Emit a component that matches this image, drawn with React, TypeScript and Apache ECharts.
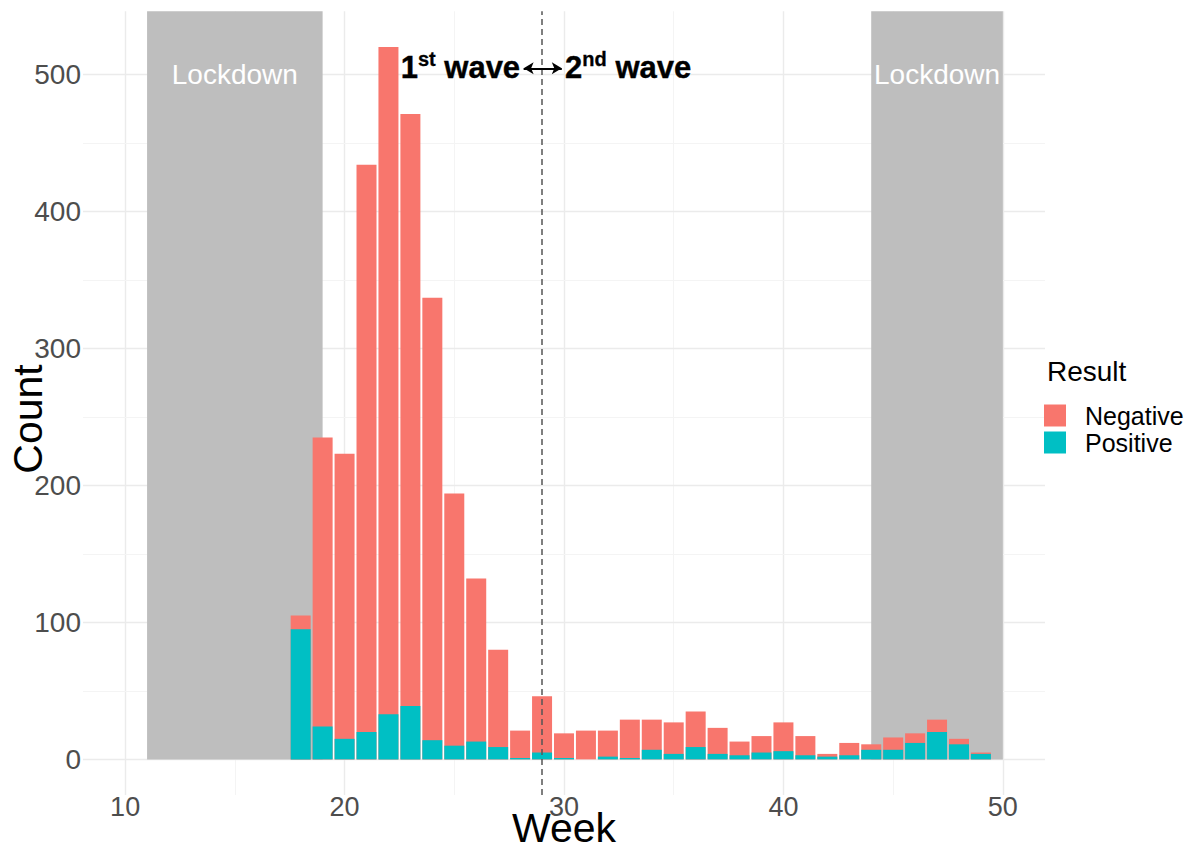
import React, { useEffect, useRef } from "react";
import * as echarts from "echarts";

// ---- data ----
const WEEKS = [18, 19, 20, 21, 22, 23, 24, 25, 26, 27, 28, 29, 30, 31, 32, 33, 34, 35, 36, 37, 38, 39, 40, 41, 42, 43, 44, 45, 46, 47, 48, 49];
const POSITIVE = [95, 24, 15, 20, 33, 39, 14, 10, 13, 9, 1, 5, 1, 0, 2, 1, 7, 4, 9, 4, 3, 5, 6, 3, 2, 3, 7, 7, 12, 20, 11, 4];
const NEGATIVE = [10, 211, 208, 414, 487, 432, 323, 184, 119, 71, 20, 41, 18, 21, 19, 28, 22, 23, 26, 19, 10, 12, 21, 14, 2, 9, 4, 9, 7, 9, 4, 1];
const LOCKDOWN_START = [11, 44];
const LOCKDOWN_END = [19, 50];
const LOCKDOWN_LABEL_Y = 500;
const X_TICKS = [10, 20, 30, 40, 50];
const X_MINOR = [15, 25, 35, 45];
const Y_TICKS = [0, 100, 200, 300, 400, 500];
const Y_MINOR = [50, 150, 250, 350, 450];
const WAVE_DIVIDER = 29;
const WAVE_LABEL_Y = 506;
const ARROW_FROM = 28.16;
const ARROW_TO = 29.9;
const ARROW_Y = 504.4;
const WAVE1_END = 28.0;
const WAVE2_START = 30.05;

const X_MIN = 8.08;
const X_MAX = 51.92;
const Y_MIN = -26;
const Y_MAX = 546;

const FONT = "'Liberation Sans', Arial, Helvetica, sans-serif";
const NEG_COLOR = "#F8766D";
const POS_COLOR = "#00BFC4";

export default function App() {
  const ref = useRef<HTMLDivElement>(null);

  useEffect(() => {
    if (!ref.current) return;
    const chart = echarts.init(ref.current, undefined, { renderer: "svg" });

    const gridLines = [
      ...X_TICKS.map((v) => ({ xAxis: v, lineStyle: { color: "#EBEBEB", width: 1.4, type: "solid" } })),
      ...X_MINOR.map((v) => ({ xAxis: v, lineStyle: { color: "#F4F4F4", width: 1, type: "solid" } })),
      ...Y_TICKS.map((v) => ({ yAxis: v, lineStyle: { color: "#EBEBEB", width: 1.4, type: "solid" } })),
      ...Y_MINOR.map((v) => ({ yAxis: v, lineStyle: { color: "#F4F4F4", width: 1, type: "solid" } })),
    ];

    const lockAreas = LOCKDOWN_START.map((s, i) => [
      { xAxis: s, yAxis: 0 },
      { xAxis: LOCKDOWN_END[i], yAxis: Y_MAX },
    ]);

    const lockLabels = LOCKDOWN_START.map((s, i) => [(s + LOCKDOWN_END[i]) / 2, LOCKDOWN_LABEL_Y]);

    // top of each stacked Negative segment = Positive + Negative
    const stackedTop = WEEKS.map((w, i) => [w, POSITIVE[i] + NEGATIVE[i]]);

    const waveRich = {
      b: {
        fontSize: 31,
        fontWeight: "bold",
        color: "#000000",
        fontFamily: FONT,
        lineHeight: 34,
        verticalAlign: "bottom",
        textBorderColor: "#000000",
        textBorderWidth: 0.4,
      },
      s: {
        fontSize: 20,
        fontWeight: "bold",
        color: "#000000",
        fontFamily: FONT,
        lineHeight: 20,
        verticalAlign: "top",
        textBorderColor: "#000000",
        textBorderWidth: 0.3,
      },
    };

    chart.setOption({
      animation: false,
      backgroundColor: "#ffffff",
      grid: { left: 83, right: 150, top: 11.3, bottom: 57, containLabel: false },
      xAxis: {
        type: "value",
        min: X_MIN,
        max: X_MAX,
        axisLine: { show: false },
        axisTick: { show: false, customValues: X_TICKS },
        splitLine: { show: false },
        axisLabel: {
          customValues: X_TICKS,
          fontSize: 27,
          color: "#4D4D4D",
          fontFamily: FONT,
          margin: -2,
        },
      },
      yAxis: {
        type: "value",
        min: Y_MIN,
        max: Y_MAX,
        axisLine: { show: false },
        axisTick: { show: false, customValues: Y_TICKS },
        splitLine: { show: false },
        axisLabel: {
          customValues: Y_TICKS,
          fontSize: 28,
          color: "#4D4D4D",
          fontFamily: FONT,
          margin: 2,
        },
      },
      legend: {
        data: ["Negative", "Positive"],
        orient: "vertical",
        left: 1044,
        top: 403,
        itemWidth: 22,
        itemHeight: 22,
        itemGap: 2,
        icon: "rect",
        padding: 0,
        selectedMode: false,
        textStyle: { fontSize: 25, color: "#000", fontFamily: FONT, padding: [0, 0, 0, 14] },
      },
      graphic: [
        {
          type: "text",
          x: 1047,
          y: 371,
          style: { text: "Result", fontSize: 28, fill: "#000", fontFamily: FONT, textAlign: "left", textVerticalAlign: "middle" },
        },
        {
          type: "text",
          x: 564,
          y: 828,
          style: { text: "Week", fontSize: 41, fill: "#000", fontFamily: FONT, textAlign: "center", textVerticalAlign: "middle" },
        },
        {
          type: "text",
          x: 28,
          y: 419,
          rotation: Math.PI / 2,
          style: { text: "Count", fontSize: 41, fill: "#000", fontFamily: FONT, textAlign: "center", textVerticalAlign: "middle" },
        },
      ],
      series: [
        {
          name: "grid",
          type: "line",
          data: [],
          silent: true,
          z: 0,
          markLine: { silent: true, z: 0, symbol: "none", label: { show: false }, data: gridLines },
        },
        {
          name: "lockdown",
          type: "line",
          data: [],
          silent: true,
          z: 1,
          markArea: { silent: true, z: 1, itemStyle: { color: "#BEBEBE" }, label: { show: false }, data: lockAreas },
        },
        {
          name: "Negative",
          type: "bar",
          z: 2,
          barWidth: 20,
          barGap: "-100%",
          itemStyle: { color: NEG_COLOR },
          data: stackedTop,
        },
        {
          name: "Positive",
          type: "bar",
          z: 3,
          barWidth: 20,
          barGap: "-100%",
          itemStyle: { color: POS_COLOR },
          data: WEEKS.map((w, i) => [w, POSITIVE[i]]),
        },
        {
          name: "lockLabels",
          type: "scatter",
          symbolSize: 0,
          silent: true,
          z: 4,
          itemStyle: { opacity: 1 },
          label: {
            show: true,
            position: "inside",
            formatter: "Lockdown",
            fontSize: 28,
            color: "#ffffff",
            fontFamily: FONT,
            textBorderWidth: 0,
          },
          data: lockLabels,
        },
        {
          name: "wave1",
          type: "scatter",
          symbolSize: 0,
          silent: true,
          z: 4,
          itemStyle: { opacity: 1 },
          label: {
            show: true,
            position: "left",
            distance: 0,
            color: "#000000",
            formatter: "{b|1}{s|st}{b| wave}",
            rich: waveRich,
          },
          data: [[WAVE1_END, WAVE_LABEL_Y]],
        },
        {
          name: "wave2",
          type: "scatter",
          symbolSize: 0,
          silent: true,
          z: 4,
          itemStyle: { opacity: 1 },
          label: {
            show: true,
            position: "right",
            distance: 0,
            color: "#000000",
            formatter: "{b|2}{s|nd}{b| wave}",
            rich: waveRich,
          },
          data: [[WAVE2_START, WAVE_LABEL_Y]],
        },
        {
          name: "divider",
          type: "line",
          data: [],
          silent: true,
          z: 5,
          markLine: {
            silent: true,
            z: 5,
            symbol: "none",
            label: { show: false },
            lineStyle: { color: "#555555", width: 1.5, type: [6, 4] },
            data: [{ xAxis: WAVE_DIVIDER }],
          },
        },
        {
          name: "arrow",
          type: "line",
          data: [],
          silent: true,
          z: 5,
          markLine: {
            silent: true,
            z: 6,
            symbol: ["arrow", "arrow"],
            symbolSize: [9, 10],
            label: { show: false },
            lineStyle: { color: "#000000", width: 2, type: "solid" },
            data: [[{ coord: [ARROW_FROM, ARROW_Y] }, { coord: [ARROW_TO, ARROW_Y] }]],
          },
        },
      ],
    });

    return () => chart.dispose();
  }, []);

  return (
    <div
      ref={ref}
      style={{ position: "fixed", left: 0, top: 0, width: 1195, height: 852, background: "#fff" }}
    />
  );
}
